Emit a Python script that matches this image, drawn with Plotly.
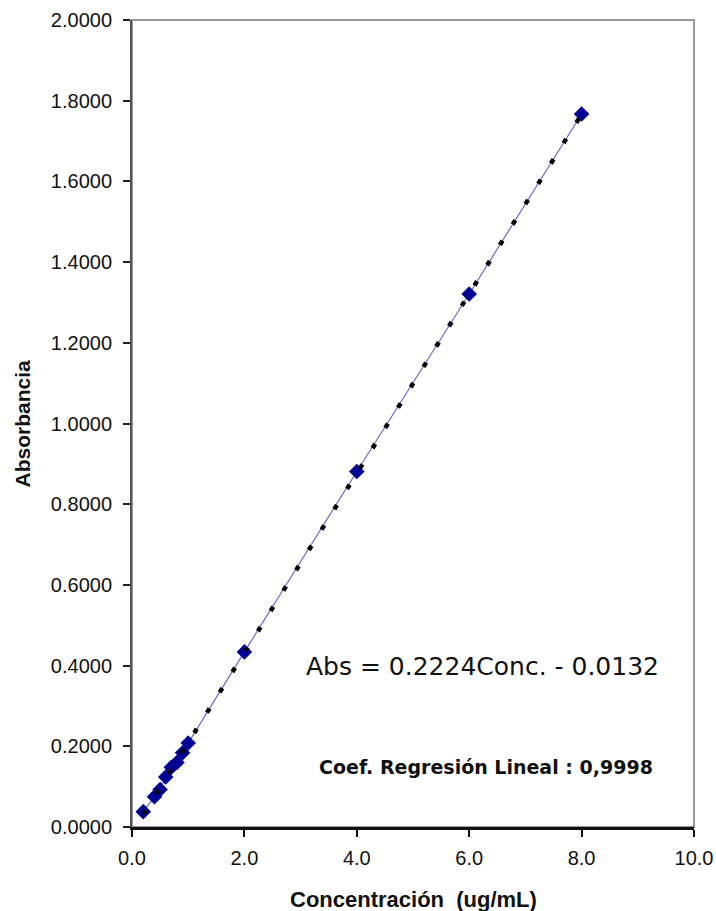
import plotly.graph_objects as go

# Data
conc = [0.2, 0.4, 0.5, 0.6, 0.7, 0.8, 0.9, 1.0, 2.0, 4.0, 6.0, 8.0]
absorb = [0.0380, 0.0750, 0.0930, 0.1240, 0.1480, 0.1600, 0.1840, 0.2080,
          0.4340, 0.8810, 1.3210, 1.7670]

slope = 0.2224
intercept = -0.0132
trend_x = [0.2, 8.0]
trend_y = [slope * v + intercept for v in trend_x]

y_ticks = [0.0, 0.2, 0.4, 0.6, 0.8, 1.0, 1.2, 1.4, 1.6, 1.8, 2.0]
x_ticks = [0, 2, 4, 6, 8, 10]

fig = go.Figure()

fig.add_trace(go.Scatter(
    x=conc, y=absorb, mode="lines+markers",
    line=dict(color="#6a6ad0", width=1.2),
    marker=dict(symbol="diamond", size=12, color="#000099",
                line=dict(width=0)),
    showlegend=False, hoverinfo="x+y"))

fig.add_trace(go.Scatter(
    x=trend_x, y=trend_y, mode="lines",
    line=dict(color="#000000", width=4.5, dash="5px,19px"),
    showlegend=False, hoverinfo="skip"))

fig.add_shape(type="rect", xref="paper", yref="paper", x0=0, x1=1, y0=0, y1=1,
              line=dict(color="#9a9a9a", width=2), layer="below")

fig.add_annotation(x=6.24, y=0.399, xref="x", yref="y",
                   text="Abs = 0.2224Conc. - 0.0132", showarrow=False,
                   font=dict(family="DejaVu Sans", size=25, color="#111111"))
fig.add_annotation(x=6.29, y=0.149, xref="x", yref="y",
                   text="<b>Coef. Regresión Lineal : 0,9998</b>", showarrow=False,
                   font=dict(family="DejaVu Sans", size=19, color="#111111"))

# Axis titles placed as annotations for exact positioning
fig.add_annotation(x=0.5, y=0, xref="paper", yref="paper", yshift=-72,
                   xanchor="center", yanchor="middle", showarrow=False,
                   text="<b>Concentración  (ug/mL)</b>",
                   font=dict(family="Liberation Sans, Arial", size=22, color="#111111"))
fig.add_annotation(x=0, y=0.5, xref="paper", yref="paper", xshift=-110,
                   xanchor="center", yanchor="middle", showarrow=False,
                   textangle=-90, text="<b>Absorbancia</b>",
                   font=dict(family="Liberation Sans, Arial", size=21, color="#111111"))

fig.update_xaxes(
    range=[0, 10], tickvals=x_ticks, tickformat=".1f",
    showgrid=False, zeroline=False, automargin=False,
    showline=True, linecolor="#111111", linewidth=3,
    ticks="outside", ticklen=7, tickwidth=2, tickcolor="#111111",
    ticklabelstandoff=4, ticklabeloverflow="allow",
    tickfont=dict(family="Liberation Sans, Arial", size=20, color="#111111"))

fig.update_yaxes(
    range=[0, 2.0], tickvals=y_ticks, tickformat=".4f",
    showgrid=False, zeroline=False, automargin=False,
    showline=True, linecolor="#555555", linewidth=2,
    ticks="outside", ticklen=7, tickwidth=2, tickcolor="#222222",
    ticklabelstandoff=7, ticklabeloverflow="allow",
    tickfont=dict(family="Liberation Sans, Arial", size=20, color="#111111"))

fig.update_layout(
    width=716, height=911,
    margin=dict(l=132, r=22, t=20, b=84),
    paper_bgcolor="white", plot_bgcolor="white",
    showlegend=False)

# Remove the default page margin so the figure fills the window exactly
fig.write_html("out.html", config={"displayModeBar": False},
               post_script="document.body.style.margin='0';document.body.style.overflow='hidden';")
